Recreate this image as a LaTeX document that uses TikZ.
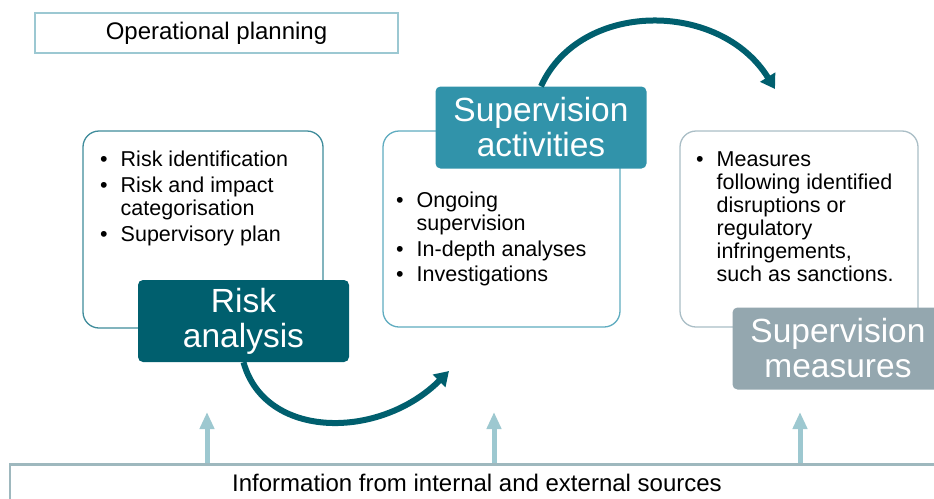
\documentclass[tikz,border=0pt]{standalone}
\usepackage{fontspec}
\setmainfont{Liberation Sans}
\usepackage{tikz}
\usetikzlibrary{arrows.meta,calc}
\definecolor{riskteal}{RGB}{0,95,110}
\definecolor{actblue}{RGB}{49,147,170}
\definecolor{measgray}{RGB}{148,167,175}
\definecolor{riskline}{RGB}{63,140,155}
\definecolor{actline}{RGB}{95,172,192}
\definecolor{measline}{RGB}{170,190,198}
\definecolor{planline}{RGB}{156,200,210}
\definecolor{infoline}{RGB}{158,184,190}
\definecolor{upcol}{RGB}{157,200,208}
\tikzset{
  stagebox/.style={draw, rounded corners=16pt, line width=1.3pt, fill=white},
  stagelabel/.style={rounded corners=5pt, text=white, align=center,
    font=\fontsize{33.5}{35}\selectfont, minimum width=211pt, minimum height=82pt},
  bullets/.style={anchor=north west, inner sep=0pt, align=left,
    font=\fontsize{21.5}{23}\selectfont},
  cyclearrow/.style={draw=riskteal, line width=6pt, -{Triangle[width=17pt,length=14pt]}},
  uparrow/.style={draw=upcol, line width=5pt, -{Triangle[width=14pt,length=17pt]}}
}
\newcommand{\bulletlist}[1]{\begin{tabular}{@{}l@{\hspace{13pt}}l@{}}#1\end{tabular}}
\begin{document}
\begin{tikzpicture}[x=1pt,y=-1pt]
\clip (0,0) rectangle (934,498);
% planning header
\node[draw=planline, line width=2.5pt, minimum width=363pt, minimum height=40pt,
  font=\fontsize{24}{26}\selectfont] (plan) at (216.5,33) {Operational planning};
% the three stages
\node[stagebox, draw=riskline, minimum width=240pt, minimum height=197pt] (risk) at (203,229.5) {};
\node[stagebox, draw=actline, minimum width=237pt, minimum height=196pt] (act) at (501.5,229) {};
\node[stagebox, draw=measline, minimum width=238pt, minimum height=196pt] (meas) at (799,229) {};
\node[bullets] (risklist) at (100,150) {\bulletlist{%
  \textbullet & Risk identification\\[3pt]
  \textbullet & Risk and impact\\
   & categorisation\\[3pt]
  \textbullet & Supervisory plan}};
\node[bullets] (actlist) at (396,191) {\bulletlist{%
  \textbullet & Ongoing\\
   & supervision\\[3pt]
  \textbullet & In-depth analyses\\[2pt]
  \textbullet & Investigations}};
\node[bullets] (measlist) at (696,150) {\bulletlist{%
  \textbullet & Measures\\
   & following identified\\
   & disruptions or\\
   & regulatory\\
   & infringements,\\
   & such as sanctions.}};
\node[stagelabel, fill=riskteal] (risklabel) at (243.5,321) {Risk\\analysis};
\node[stagelabel, fill=actblue] (actlabel) at (541,127.5) {Supervision\\activities};
\node[stagelabel, fill=measgray] (measlabel) at (838,348.5) {Supervision\\measures};
% cycle arrows
\coordinate (acttip) at (449,371);
\coordinate (meastip) at (775,89);
\draw[cyclearrow] (risklabel.south) .. controls (265,440) and (380,440) .. (acttip);
\draw[cyclearrow] (actlabel.north) .. controls (580,0) and (720,0) .. (meastip);
% information sources
\node[draw=infoline, line width=2.5pt, anchor=north, minimum width=934pt,
  inner ysep=10pt, text height=17pt, text depth=5pt,
  font=\fontsize{24}{26}\selectfont] (info) at (477,463) {Information from internal and external sources};
\coordinate (up1) at (207,412);
\coordinate (up2) at (494,412);
\coordinate (up3) at (800,412);
\foreach \u in {up1,up2,up3}
  \draw[uparrow] (info.north -| \u) -- (\u);
\end{tikzpicture}
\end{document}
